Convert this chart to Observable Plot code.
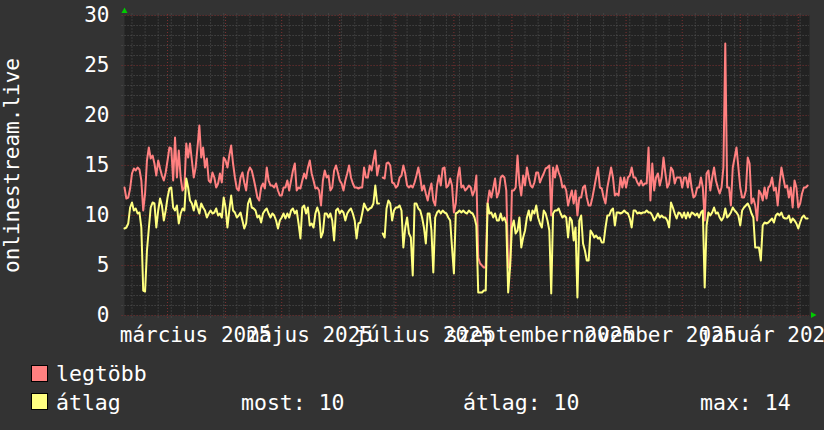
<!DOCTYPE html>
<html>
<head>
<meta charset="utf-8">
<script src="https://cdn.jsdelivr.net/npm/d3@7"></script>
<script src="https://cdn.jsdelivr.net/npm/@observablehq/plot@0.6"></script>
<style>
html, body { margin: 0; padding: 0; background: #333333; }
#wrap { position: relative; width: 824px; height: 430px; overflow: hidden; background: #333333;
  font-family: "DejaVu Sans Mono", monospace; color: #ffffff; }
#chart { position: absolute; left: 0; top: 0; }
#arrows { position: absolute; left: 0; top: 0; pointer-events: none; }
.lg { position: absolute; font-size: 21.5px; line-height: 21px; white-space: pre; color: #ffffff; }
.box { position: absolute; width: 17px; height: 17px; box-sizing: border-box; border: 1px solid #000; }
</style>
</head>
<body>
<div id="wrap">
  <div id="chart"></div>
  <svg id="arrows" width="824" height="430"></svg>
</div>
<script>
// ---- data (daily values starting 2025-02-06) ----
const startDate = "2025-02-06";
const endDate = "2026-02-07";
const legtobb = [
12.8,11.7,11.8,12.7,14.2,14.7,14.5,14.8,14.6,13.5,
10.5,12.2,15.5,16.8,15.7,16.0,15.2,14.0,15.5,14.7,
14.0,13.5,14.3,15.5,16.8,16.7,13.5,17.8,13.8,16.5,
13.8,12.5,12.8,17.2,15.8,17.2,15.5,13.8,14.8,16.8,
19.0,15.8,16.8,14.8,15.7,13.5,13.3,14.3,13.8,12.8,
13.2,14.2,13.3,15.8,15.5,14.8,16.0,17.0,15.2,13.8,
12.7,12.5,13.8,14.3,13.3,12.5,14.3,14.8,14.5,13.7,
12.8,11.8,11.5,12.8,13.2,12.7,14.8,13.5,13.0,13.0,
12.8,13.2,12.5,12.0,12.0,12.8,12.8,13.5,12.5,13.5,
14.5,15.2,12.5,12.8,12.7,13.5,14.2,13.7,14.8,15.5,
14.2,13.5,12.7,12.8,12.5,11.0,13.5,14.5,13.8,14.0,
12.5,12.8,14.5,15.0,14.3,13.5,13.2,12.5,13.5,14.2,
15.0,13.8,13.2,12.8,12.8,12.7,12.8,
12.8,14.8,13.8,13.8,15.0,14.5,15.5,16.5,14.0,15.0,
null,13.8,13.7,15.2,15.3,15.0,13.3,13.2,12.8,13.0,
13.8,14.0,15.0,14.2,13.0,12.8,13.0,12.8,13.3,14.0,
14.8,13.8,12.5,13.0,12.2,11.5,12.5,13.2,11.5,11.0,
13.0,14.0,13.0,14.7,14.8,12.8,13.0,13.7,13.0,10.3,
11.2,13.8,14.8,12.8,13.0,12.5,12.7,13.0,12.8,12.0,
12.5,14.0,5.8,5.2,5.0,4.8,4.8,11.2,12.5,11.8,
12.7,13.7,11.8,12.3,13.8,14.0,13.8,12.5,4.8,4.8,
12.5,12.5,12.8,16.0,13.2,12.0,14.0,13.0,14.8,13.8,
13.0,12.8,13.3,14.3,14.3,13.3,13.8,14.2,14.7,14.8,
15.0,10.0,14.8,13.8,15.0,14.3,13.8,12.8,13.0,12.5,
11.0,11.8,12.5,11.2,12.5,10.0,11.8,
11.8,12.8,13.0,11.8,11.0,11.0,11.8,12.8,13.8,14.8,
12.8,12.7,11.8,11.2,12.8,13.8,14.8,13.8,12.0,12.2,
12.0,13.8,12.8,13.8,12.8,13.8,14.0,14.8,13.8,13.8,
13.3,13.0,13.5,13.0,13.2,13.2,16.8,11.5,15.2,12.5,
13.8,14.2,13.0,13.8,15.8,14.2,12.8,13.2,14.8,14.5,
13.2,13.8,13.8,13.8,12.8,13.8,13.8,12.8,14.2,12.8,
11.8,12.0,12.8,12.8,13.8,12.8,9.5,14.2,14.5,12.5,
13.8,14.8,13.5,12.8,12.2,12.8,14.8,27.2,12.8,12.8,
11.0,14.8,15.8,16.8,14.8,12.8,11.8,11.8,12.5,15.8,
15.2,11.2,11.7,11.0,9.5,12.5,12.2,11.5,12.8,11.7,
12.8,13.0,13.8,12.5,12.8,11.0,13.2,14.8,13.8,12.8,
13.0,11.8,12.8,10.8,13.5,12.8,10.8,11.2,12.2,12.8,
12.8,13.0
];
const atlag = [
8.7,8.8,9.2,10.8,11.3,10.5,10.7,10.2,10.3,8.8,
2.5,2.4,6.5,8.7,10.8,11.3,11.2,8.8,10.5,11.7,
11.0,9.5,10.5,11.8,12.7,12.8,10.8,10.5,11.0,9.2,
10.2,10.7,10.5,13.7,12.8,11.5,11.2,10.5,11.5,10.8,
10.2,11.2,10.8,10.5,9.8,10.2,10.5,10.2,10.3,10.7,
10.0,10.2,9.8,11.8,10.8,8.8,10.5,12.0,10.5,10.3,
9.8,10.0,10.3,9.5,8.7,9.2,11.2,11.7,10.8,10.7,
10.5,9.8,10.0,9.3,10.2,10.5,10.7,10.2,9.8,10.2,
10.0,9.5,8.7,9.5,9.8,10.2,9.7,10.2,9.8,10.5,
10.7,10.2,10.5,9.2,7.7,10.8,11.0,10.2,10.8,9.0,
9.2,8.8,10.2,10.8,10.2,7.8,8.3,10.2,10.2,9.8,
10.2,9.5,7.5,10.5,10.7,10.2,10.5,10.3,9.5,10.2,
10.5,10.7,10.2,9.5,7.7,9.2,9.3,
10.2,11.2,10.8,10.5,10.7,10.8,11.2,13.0,11.2,11.2,
null,8.2,7.8,10.7,11.5,11.2,9.5,10.5,10.8,10.8,
11.0,10.5,6.8,8.8,9.8,8.2,7.8,4.0,11.2,11.2,
10.7,10.5,9.8,8.8,7.2,10.2,10.2,8.5,4.3,9.8,
10.3,10.5,10.2,10.5,10.3,10.2,9.8,9.5,6.8,4.2,
10.2,10.3,10.5,10.3,10.5,10.3,10.2,10.5,10.3,10.2,
9.8,9.0,2.3,2.3,2.3,2.5,2.5,11.2,10.2,10.3,
9.8,10.2,9.5,9.5,10.2,9.5,9.8,9.2,2.3,4.8,
8.8,9.5,8.2,8.5,9.8,6.8,7.8,8.5,9.8,10.5,
9.5,10.5,10.2,11.0,9.8,9.2,8.8,10.5,10.2,9.5,
8.5,2.2,10.2,10.5,10.5,10.7,10.2,9.8,10.0,9.8,
7.8,9.8,9.5,7.5,8.8,1.8,9.5,
10.0,7.2,6.5,5.5,5.5,8.5,8.2,7.8,8.0,7.7,
7.8,7.3,7.3,8.8,10.0,10.0,10.5,10.7,9.0,10.3,
10.3,10.2,10.3,10.5,10.3,10.2,9.7,8.8,10.5,10.5,
10.2,10.3,10.2,10.3,10.3,10.5,10.3,10.3,10.0,9.5,
9.8,10.2,9.8,10.0,9.8,9.8,9.5,8.8,11.3,10.8,
10.2,9.7,10.3,10.2,9.8,10.3,9.7,10.3,9.8,10.3,
10.2,10.0,10.2,9.8,10.3,10.5,2.8,9.0,10.3,10.0,
10.3,10.8,10.2,10.3,9.8,9.5,9.8,10.7,9.8,10.0,
10.3,10.8,10.5,10.3,10.0,9.0,10.5,10.8,11.0,11.2,
10.8,10.2,9.8,6.8,6.8,6.8,5.5,9.0,9.3,9.2,
9.3,9.5,9.7,9.3,10.0,10.2,10.0,10.3,9.8,9.7,
9.7,10.0,9.3,9.7,9.5,9.2,8.7,9.3,9.8,10.0,
9.7,9.7
];
const yTicks = [0, 5, 10, 15, 20, 25, 30];
const xLabelDates = ["2025-03-16", "2025-05-16", "2025-07-16", "2025-09-16", "2025-11-16", "2026-01-16"];
const monthNames = ["január","február","március","április","május","június","július","augusztus","szeptember","október","november","december"];
const yTitle = "onlinestream.live";
const seriesNames = ["legtöbb", "átlag"];
const seriesColors = ["#ff8080", "#ffff80"];
const statLabels = ["most", "átlag", "max"];
const statValues = [10, 10, 14];

// ---- build ----
const t0 = new Date(startDate + "T00:00:00Z");
const tEnd = new Date(endDate + "T00:00:00Z");
const DAY = 864e5;
const rows = legtobb.map((v, i) => ({date: new Date(+t0 + i * DAY), legtobb: v, atlag: atlag[i]}));

const monthLines = d3.utcMonth.range(d3.utcMonth.ceil(t0), tEnd);
const monthSet = new Set(monthLines.map(d => +d));
const weekLines = d3.utcMonday.range(t0, tEnd).filter(d => !monthSet.has(+d));
const minorY = d3.range(0, 31).filter(v => v % 5 !== 0);
const majorY = yTicks;
const gridX1 = new Date(+t0 - 1.3 * DAY);

const minorColor = "#555555";
const majorColor = "#7f3030";

const chart = Plot.plot({
  width: 824,
  height: 345,
  marginLeft: 124,
  marginRight: 15,
  marginTop: 15,
  marginBottom: 30,
  style: {background: "transparent", color: "#ffffff", fontFamily: "'DejaVu Sans Mono', monospace", fontSize: "21px", overflow: "visible"},
  x: {type: "utc", domain: [t0, tEnd]},
  y: {domain: [0, 30]},
  marks: [
    Plot.frame({fill: "#222222", stroke: null}),
    Plot.ruleY(minorY, {x1: gridX1, x2: tEnd, stroke: minorColor, strokeDasharray: "1,2"}),
    Plot.ruleX(weekLines, {y1: -0.25, y2: 30.25, stroke: minorColor, strokeDasharray: "1,2"}),
    Plot.ruleY(majorY, {x1: gridX1, x2: tEnd, stroke: majorColor, strokeDasharray: "1,2"}),
    Plot.ruleX(monthLines, {y1: -0.3, y2: 30.25, stroke: majorColor, strokeDasharray: "1,2"}),
    Plot.lineY(rows, {x: "date", y: "legtobb", stroke: seriesColors[0], strokeWidth: 2, curve: "linear"}),
    Plot.lineY(rows, {x: "date", y: "atlag", stroke: seriesColors[1], strokeWidth: 2, curve: "linear"}),
    Plot.axisY(yTicks, {anchor: "left", tickSize: 0, tickPadding: 15, fontSize: 21, label: null}),
    Plot.axisX(xLabelDates.map(s => new Date(s + "T00:00:00Z")), {
      anchor: "bottom", tickSize: 0, tickPadding: 12, fontSize: 21, label: null,
      tickFormat: d => monthNames[d.getUTCMonth()] + " " + d.getUTCFullYear()
    }),
    Plot.text([yTitle], {frameAnchor: "left", rotate: -90, dx: -112.5, lineAnchor: "middle", textAnchor: "middle", fontSize: 21, fill: "#ffffff"})
  ]
});
document.getElementById("chart").appendChild(chart);

// axis arrows (rrdtool style)
const arrows = d3.select("#arrows");
arrows.append("polygon").attr("points", "121.5,13 127.5,13 124.5,7.5").attr("fill", "#00cc00");
arrows.append("polygon").attr("points", "811,312 811,318 816.5,315").attr("fill", "#00cc00");

// legend
const wrap = d3.select("#wrap");
const rowsY = [381, 409.3];
seriesNames.forEach((name, i) => {
  wrap.append("div").attr("class", "box")
    .style("left", "31px").style("top", (rowsY[i] - 16.5) + "px")
    .style("background", seriesColors[i]);
  wrap.append("div").attr("class", "lg")
    .style("left", "56px").style("top", (rowsY[i] - 17.8) + "px")
    .text(name);
});
const statX = [241, 463, 700];
statLabels.forEach((lab, i) => {
  wrap.append("div").attr("class", "lg")
    .style("left", statX[i] + "px").style("top", (rowsY[1] - 17.8) + "px")
    .text(lab + ": " + statValues[i]);
});
</script>
</body>
</html>
